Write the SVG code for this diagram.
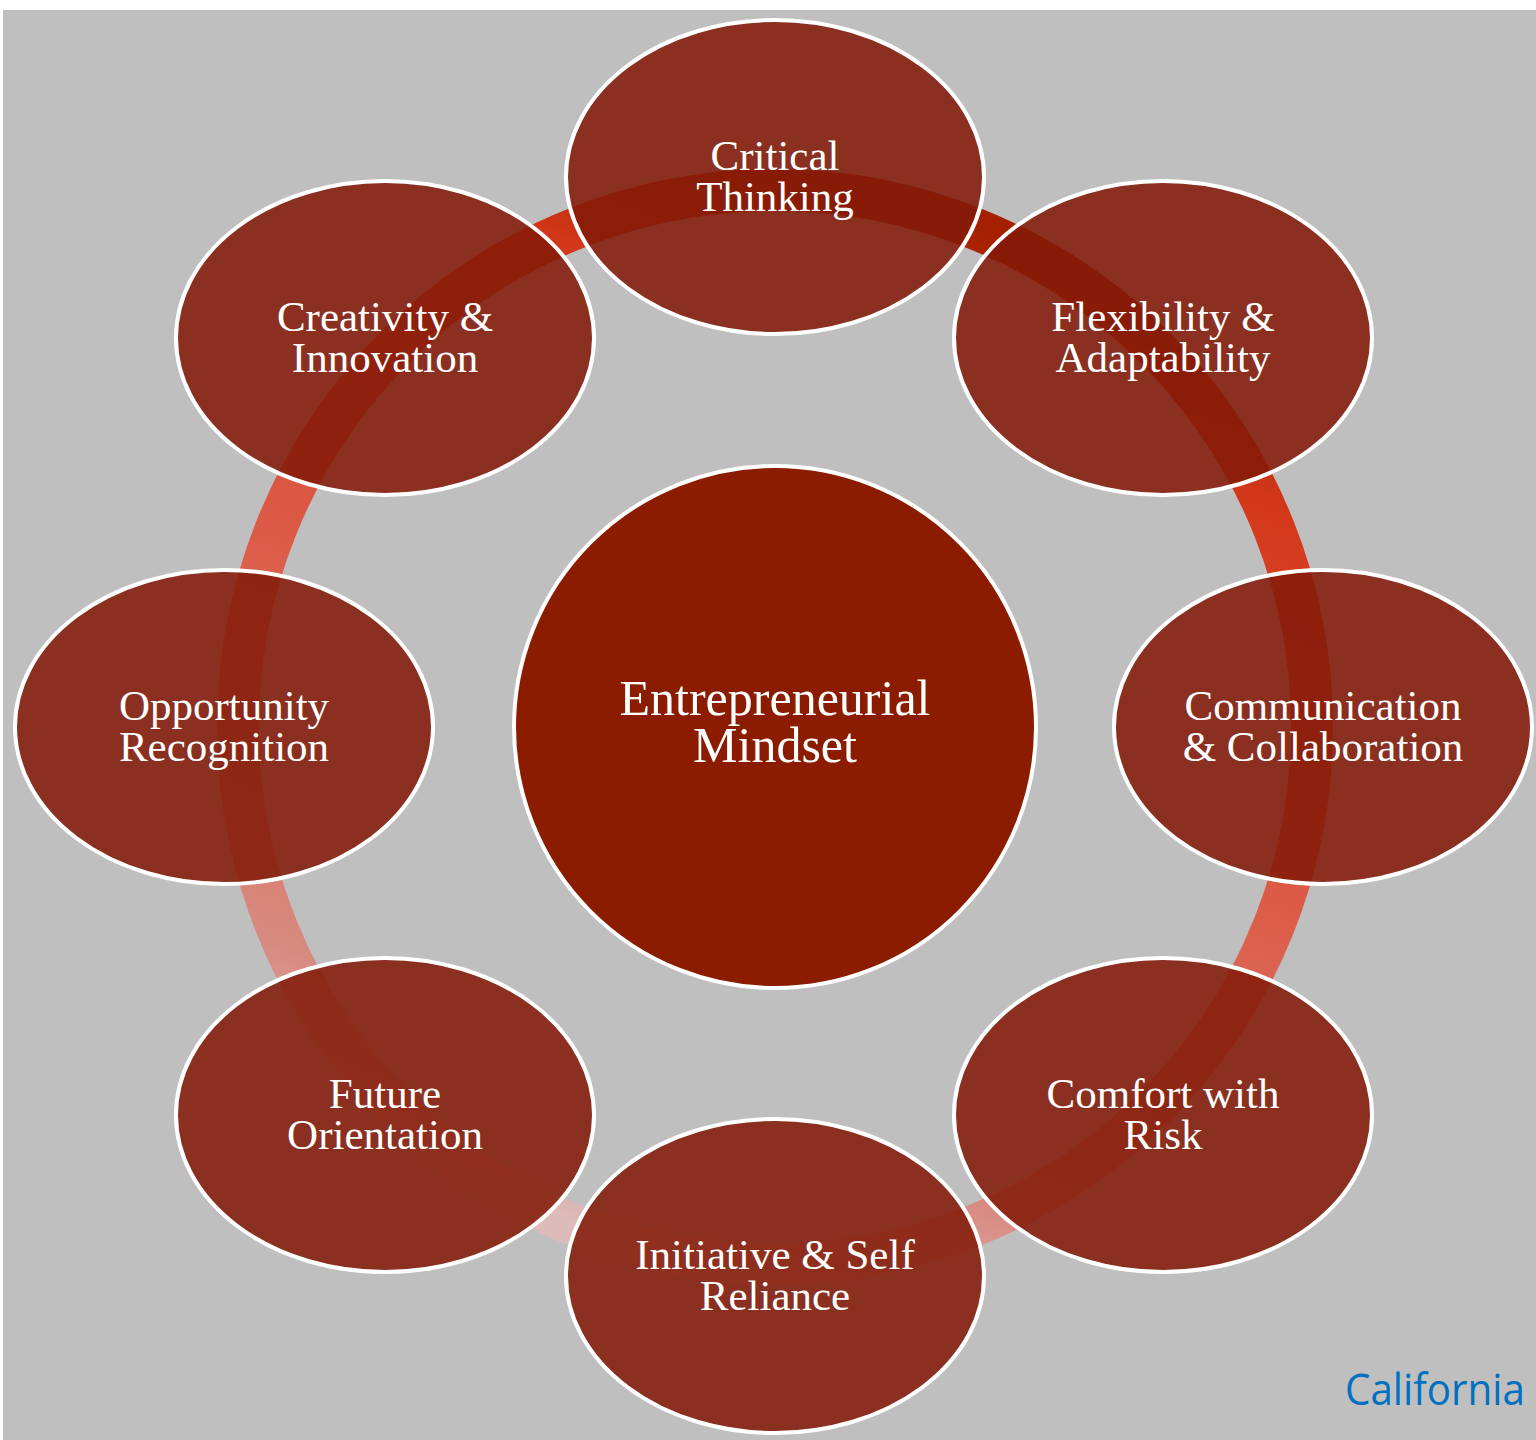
<svg xmlns="http://www.w3.org/2000/svg" width="1536" height="1440" viewBox="0 0 1536 1440">
<defs>
<linearGradient id="ringGrad" gradientUnits="userSpaceOnUse" x1="959" y1="222" x2="591" y2="1232">
<stop offset="0" stop-color="#a42000"/>
<stop offset="0.15" stop-color="#d4381a"/>
<stop offset="0.5" stop-color="#dc5c48"/>
<stop offset="0.85" stop-color="#d88a80"/>
<stop offset="1" stop-color="#dcbcba"/>
</linearGradient>
<style>
.node { fill: #831a08; fill-opacity: 0.87; stroke: #ffffff; stroke-width: 4; }
.hub { fill: #8b1c00; stroke: #ffffff; stroke-width: 4; }
.lbl { font-family: "Liberation Serif", "Times New Roman", serif; font-size: 43px; fill: #ffffff; text-anchor: middle; }
.hubl { font-family: "Liberation Serif", "Times New Roman", serif; font-size: 50px; fill: #ffffff; text-anchor: middle; }
</style>
</defs>
<rect x="0" y="0" width="1536" height="1440" fill="#ffffff"/>
<rect x="3" y="10" width="1533" height="1430" fill="#bfbfbf"/>
<g id="connectors">
<circle cx="775" cy="727" r="537" fill="none" stroke="url(#ringGrad)" stroke-width="42"/>
</g>
<g id="hub">
<circle class="hub" cx="775" cy="727" r="261"/>
<text class="hubl" x="775" y="715">Entrepreneurial</text>
<text class="hubl" x="775" y="762">Mindset</text>
</g>
<g id="critical-thinking">
<ellipse class="node" cx="775" cy="177" rx="209" ry="157"/>
<text class="lbl" x="775" y="170">Critical</text>
<text class="lbl" x="775" y="211">Thinking</text>
</g>
<g id="flexibility">
<ellipse class="node" cx="1163" cy="338" rx="209" ry="157"/>
<text class="lbl" x="1163" y="331">Flexibility &amp;</text>
<text class="lbl" x="1163" y="372">Adaptability</text>
</g>
<g id="communication">
<ellipse class="node" cx="1323" cy="727" rx="209" ry="157"/>
<text class="lbl" x="1323" y="720">Communication</text>
<text class="lbl" x="1323" y="761">&amp; Collaboration</text>
</g>
<g id="comfort-risk">
<ellipse class="node" cx="1163" cy="1115" rx="209" ry="157"/>
<text class="lbl" x="1163" y="1108">Comfort with</text>
<text class="lbl" x="1163" y="1149">Risk</text>
</g>
<g id="initiative">
<ellipse class="node" cx="775" cy="1276" rx="209" ry="157"/>
<text class="lbl" x="775" y="1269">Initiative &amp; Self</text>
<text class="lbl" x="775" y="1310">Reliance</text>
</g>
<g id="future">
<ellipse class="node" cx="385" cy="1115" rx="209" ry="157"/>
<text class="lbl" x="385" y="1108">Future</text>
<text class="lbl" x="385" y="1149">Orientation</text>
</g>
<g id="opportunity">
<ellipse class="node" cx="224" cy="727" rx="209" ry="157"/>
<text class="lbl" x="224" y="720">Opportunity</text>
<text class="lbl" x="224" y="761">Recognition</text>
</g>
<g id="creativity">
<ellipse class="node" cx="385" cy="338" rx="209" ry="157"/>
<text class="lbl" x="385" y="331">Creativity &amp;</text>
<text class="lbl" x="385" y="372">Innovation</text>
</g>
<text x="1345" y="1405" font-family="'Open Sans', 'Liberation Sans', sans-serif" font-size="44" fill="#0070c0" textLength="180" lengthAdjust="spacingAndGlyphs">California</text>
</svg>
